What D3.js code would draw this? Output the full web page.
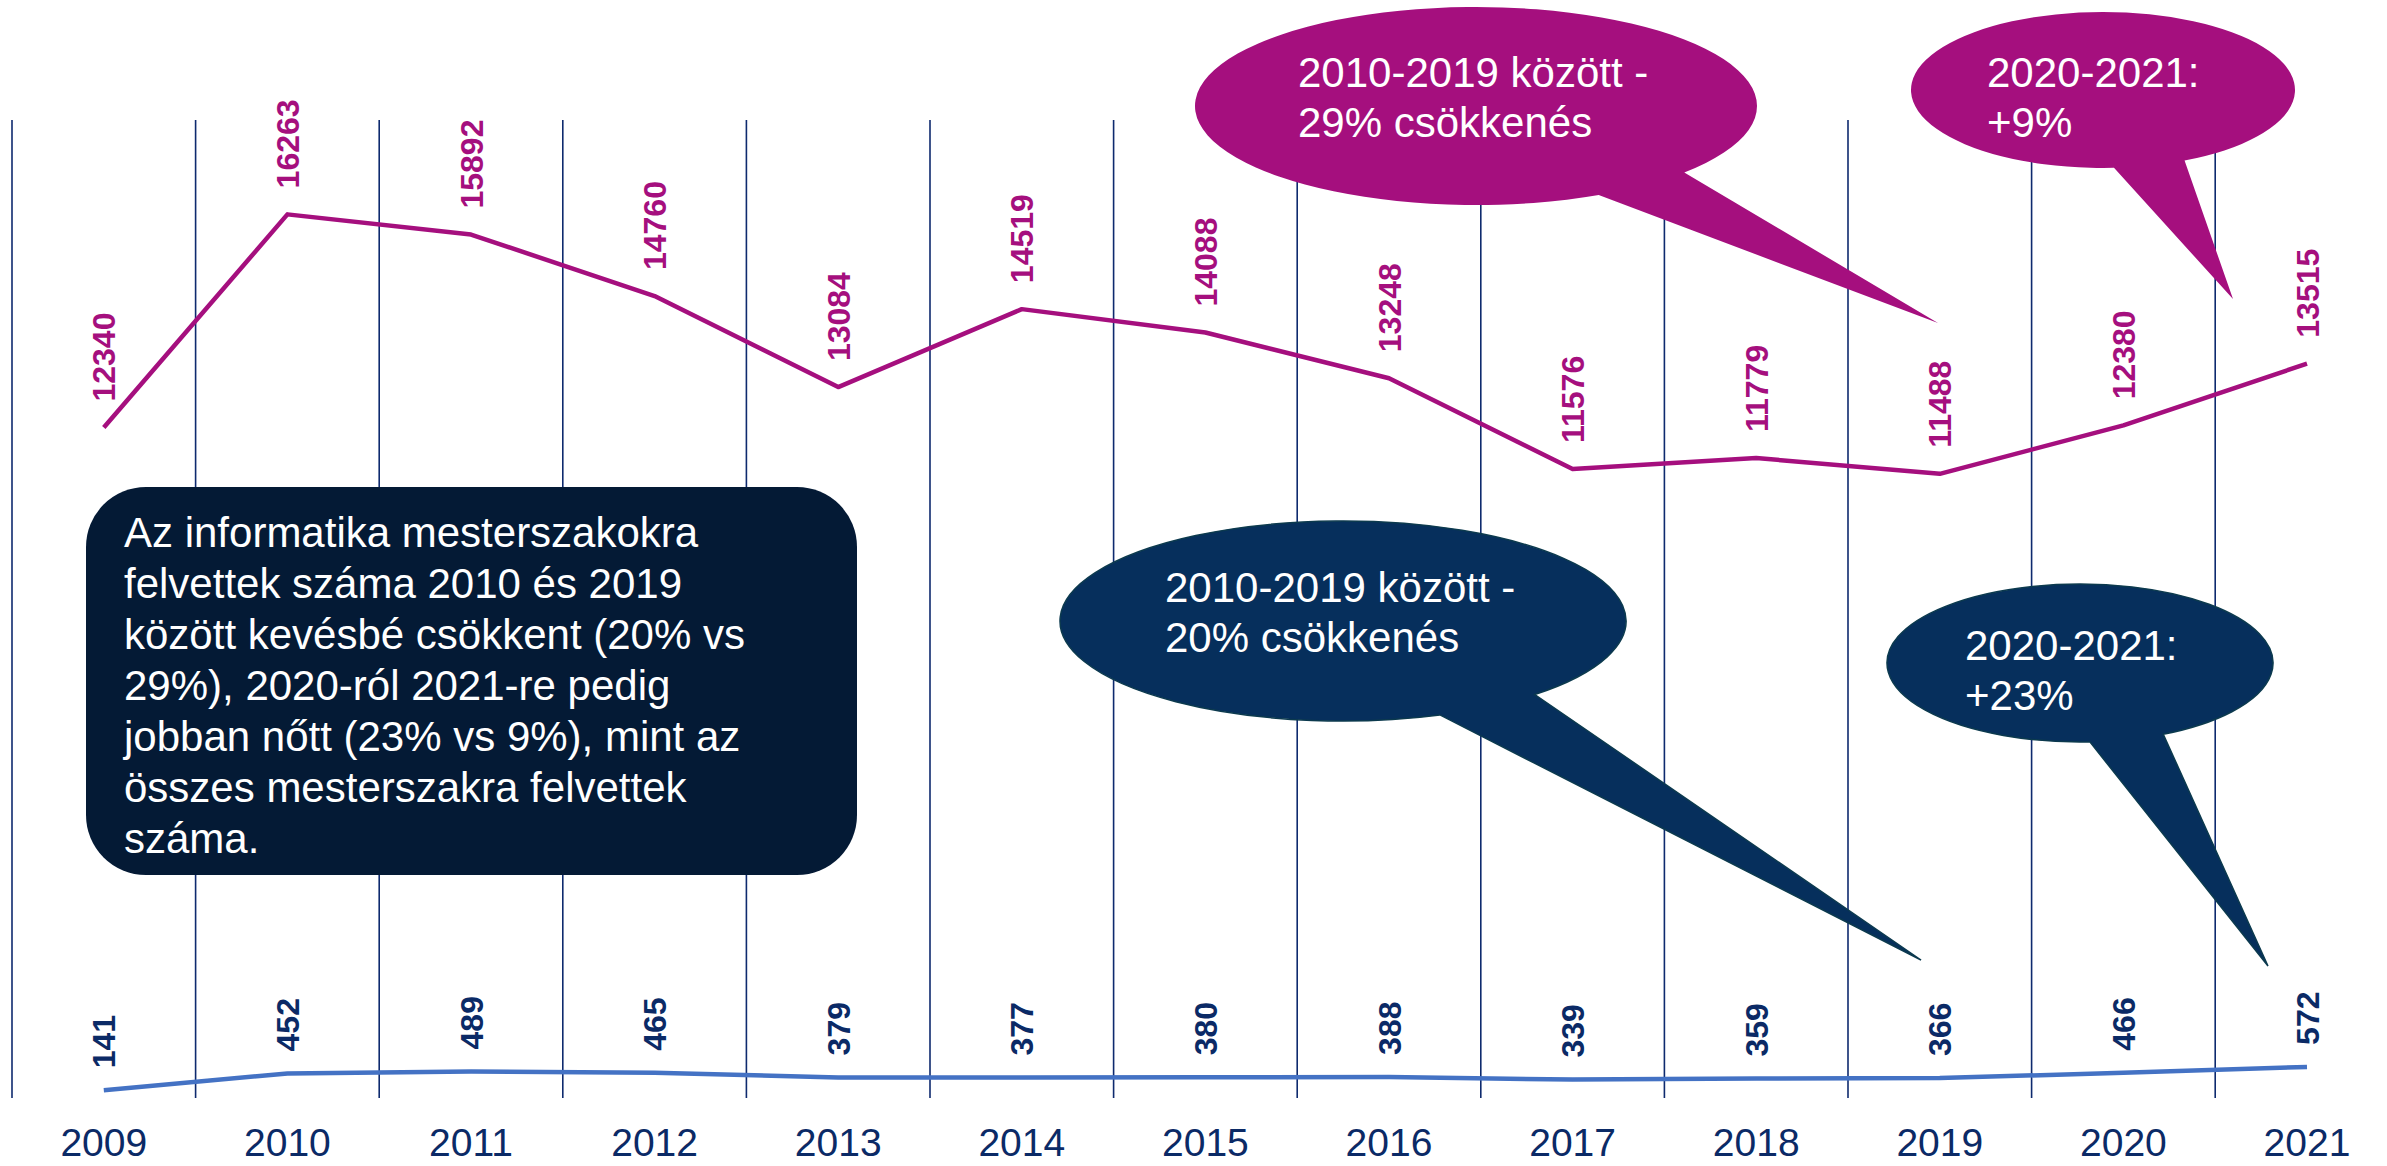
<!DOCTYPE html>
<head>
    <meta charset="utf-8">
    <style>
        body { margin: 0; background: #fff; }
        svg { display: block; font-family: "Liberation Sans", Arial, sans-serif; }
    </style>
</head>
<body>
    <script src="https://d3js.org/d3.v7.min.js"></script>
    <script>
        const w = 2387, h = 1166;

        // data
        const years = ['2009', '2010', '2011', '2012', '2013', '2014', '2015',
                       '2016', '2017', '2018', '2019', '2020', '2021'];
        const osszes = [12340, 16263, 15892, 14760, 13084, 14519, 14088,
                        13248, 11576, 11779, 11488, 12380, 13515];
        const informatika = [141, 452, 489, 465, 379, 377, 380,
                             388, 339, 359, 366, 466, 572];

        const boxLines = ['Az informatika mesterszakokra',
                          'felvettek száma 2010 és 2019',
                          'között kevésbé csökkent (20% vs',
                          '29%), 2020-ról 2021-re pedig',
                          'jobban nőtt (23% vs 9%), mint az',
                          'összes mesterszakra felvettek',
                          'száma.'];

        const magenta = '#a50f7e', navy = '#0b2a66', blue = '#4472c4';

        const x = d3.scaleBand().domain(years).range([12, 12 + 13 * 183.6]);
        const y = d3.scaleLinear().domain([0, 18000]).range([1098, 120]);
        const cx = d => x(d) + x.bandwidth() / 2;

        const svg = d3.select('body')
                      .append('svg')
                      .attr('width', w)
                      .attr('height', h);

        // vertical category separators
        svg.append('g')
           .selectAll('line')
           .data(years)
           .enter()
           .append('line')
           .attr('x1', d => x(d)).attr('x2', d => x(d))
           .attr('y1', y(18000)).attr('y2', y(0))
           .attr('stroke', '#0e2a6e')
           .attr('stroke-width', 1.6);

        // year labels
        svg.append('g')
           .selectAll('text')
           .data(years)
           .enter()
           .append('text')
           .attr('x', d => cx(d))
           .attr('y', 1156)
           .attr('text-anchor', 'middle')
           .attr('font-size', 39)
           .attr('fill', navy)
           .text(d => d);

        function series(values, color, gap) {
            const pts = values.map((v, i) => [cx(years[i]), y(v), v]);
            svg.append('path')
               .attr('d', d3.line()(pts))
               .attr('fill', 'none')
               .attr('stroke', color)
               .attr('stroke-width', 4.5)
               .attr('stroke-linejoin', 'round');
            svg.append('g')
               .selectAll('text')
               .data(pts)
               .enter()
               .append('text')
               .attr('transform', d => `translate(${d[0]},${d[1] - gap}) rotate(-90)`)
               .attr('dy', '0.36em')
               .attr('font-size', 32)
               .attr('font-weight', 'bold')
               .attr('fill', color === blue ? navy : color)
               .text(d => d[2]);
        }
        series(osszes, magenta, 26);
        series(informatika, blue, 22);

        // summary box
        svg.append('rect')
           .attr('x', 86).attr('y', 487)
           .attr('width', 771).attr('height', 388)
           .attr('rx', 60).attr('ry', 60)
           .attr('fill', '#041a35');
        svg.append('text')
           .attr('font-size', 42)
           .attr('fill', '#fff')
           .selectAll('tspan')
           .data(boxLines)
           .enter()
           .append('tspan')
           .attr('x', 124)
           .attr('y', (d, i) => 547 + i * 51)
           .text(d => d);

        // oval callouts
        function callout(c) {
            const ang = p => Math.atan2((p[1] - c.cy) / c.ry, (p[0] - c.cx) / c.rx);
            let a = c.base.map(ang).sort((p, q) => p - q);
            const pt = t => [c.cx + c.rx * Math.cos(t), c.cy + c.ry * Math.sin(t)];
            const p1 = pt(a[0]), p2 = pt(a[1]);
            svg.append('path')
               .attr('d', `M${c.tip}L${p2}A${c.rx},${c.ry} 0 1 1 ${p1}Z`)
               .attr('fill', c.fill)
               .attr('stroke', c.stroke || 'none')
               .attr('stroke-width', 1.5);
            svg.append('text')
               .attr('font-size', 42)
               .attr('fill', '#fff')
               .selectAll('tspan')
               .data(c.lines)
               .enter()
               .append('tspan')
               .attr('x', c.tx)
               .attr('y', (d, i) => c.ty + i * 50)
               .text(d => d);
        }

        callout({cx: 1476, cy: 106, rx: 281, ry: 99, base: [[1686, 173], [1600, 196]],
                 tip: [1938, 323], fill: magenta, tx: 1298, ty: 87,
                 lines: ['2010-2019 között -', '29% csökkenés']});
        callout({cx: 2103, cy: 90, rx: 192, ry: 78, base: [[2114, 168], [2185, 161]],
                 tip: [2233, 299], fill: magenta, tx: 1987, ty: 87,
                 lines: ['2020-2021:', '+9%']});
        callout({cx: 1343, cy: 621, rx: 283, ry: 100, base: [[1536, 695], [1442, 717]],
                 tip: [1921, 960], fill: '#062f5c', stroke: '#0c3a4e', tx: 1165, ty: 602,
                 lines: ['2010-2019 között -', '20% csökkenés']});
        callout({cx: 2080, cy: 663, rx: 193, ry: 79, base: [[2090, 743], [2163, 734]],
                 tip: [2268, 966], fill: '#062f5c', stroke: '#0c3a4e', tx: 1965, ty: 660,
                 lines: ['2020-2021:', '+23%']});
    </script>
</body>
